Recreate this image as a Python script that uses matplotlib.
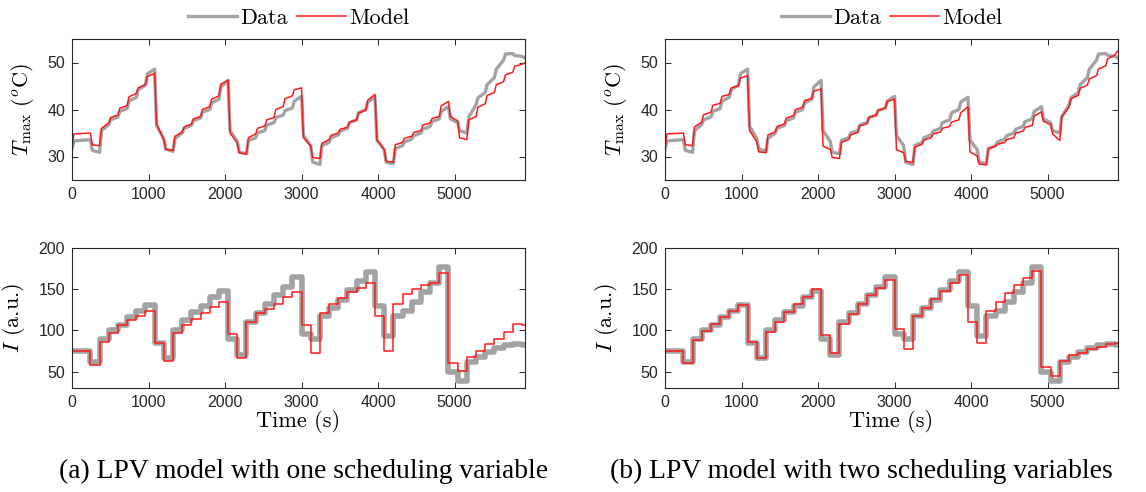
import numpy as np
import matplotlib
matplotlib.use("Agg")
import matplotlib.pyplot as plt

plt.rcParams['mathtext.fontset'] = 'cm'

# ---------------- data ----------------
STEP_T = [0, 240, 360, 480, 600, 720, 840, 960, 1080, 1200, 1320, 1440, 1560, 1680, 1800,
          1920, 2040, 2160, 2280, 2400, 2520, 2640, 2760, 2880, 3000, 3120, 3240, 3360,
          3480, 3600, 3720, 3840, 3960, 4080, 4200, 4320, 4440, 4560, 4680, 4800, 4920,
          5040, 5160, 5280, 5400, 5520, 5640, 5760, 5880]
T_STOP = 5914
XTICKS = [0, 1000, 2000, 3000, 4000, 5000]

# Temperature: value at t=0, value shortly after each step ("knee"), value at end of each step
T0_DATA = 31.6
TDATA_KNEE = [33.3, 31.3, 35.5, 37.8, 39.6, 41.8, 44.2, 47.6, 36.5, 31.6,
              33.8, 36.0, 37.6, 39.4, 41.4, 44.8, 35.5, 30.9,
              33.4, 35.0, 36.7, 38.3, 39.8, 41.8, 34.5, 28.8,
              32.3, 34.0, 35.4, 37.2, 39.3, 41.6, 33.5, 28.8,
              31.7, 33.1, 34.4, 35.8, 37.4, 39.6, 38.0, 35.5,
              38.4, 42.5, 45.3, 48.6, 51.8, 51.5, 51.1]
TDATA_END = [33.6, 30.9, 36.8, 38.4, 40.2, 42.6, 45.2, 48.6, 33.8, 31.1,
             35.0, 36.6, 38.2, 40.0, 42.2, 46.2, 33.2, 30.6,
             34.0, 35.5, 37.2, 38.8, 40.3, 42.8, 32.3, 28.3,
             33.0, 34.6, 36.0, 37.8, 40.0, 42.6, 31.5, 28.5,
             32.3, 33.7, 35.0, 36.4, 38.0, 40.6, 37.2, 35.0,
             41.0, 43.6, 46.8, 50.5, 51.9, 51.3, 51.0]

T0_MODEL = 31.8
TA_KNEE = [34.8, 32.5, 36.0, 38.3, 40.3, 42.7, 44.6, 47.0, 37.0, 31.5,
           34.3, 36.3, 38.0, 40.0, 42.2, 45.4, 35.0, 30.8,
           34.0, 36.0, 37.8, 40.0, 42.3, 44.2, 34.0, 29.8,
           32.8, 34.5, 35.8, 37.3, 39.3, 42.0, 33.5, 29.0,
           32.5, 33.9, 35.1, 36.7, 38.1, 40.8, 38.5, 34.0,
           37.8, 40.5, 43.0, 45.3, 47.4, 49.2, 49.8]
TA_END = [35.0, 32.3, 37.1, 38.8, 40.8, 43.4, 45.3, 47.7, 33.5, 31.3,
          35.2, 36.9, 38.5, 40.6, 42.9, 46.2, 32.9, 30.5,
          34.8, 36.5, 38.3, 40.6, 42.9, 44.6, 32.2, 29.6,
          33.6, 35.0, 36.2, 37.8, 39.8, 43.2, 31.5, 28.8,
          33.0, 34.3, 35.5, 37.1, 38.5, 41.7, 37.6, 33.6,
          38.5, 41.2, 43.6, 45.9, 47.9, 49.6, 49.9]

TB_KNEE = [34.8, 32.5, 36.3, 38.9, 40.9, 42.8, 44.6, 46.7, 35.5, 31.0,
           34.6, 36.4, 38.2, 40.0, 41.9, 43.9, 32.2, 29.8,
           33.0, 34.6, 36.5, 38.3, 39.8, 41.7, 31.4, 29.0,
           32.0, 33.5, 34.8, 36.0, 37.3, 39.3, 31.0, 28.4,
           31.6, 32.6, 33.6, 35.0, 36.2, 38.6, 37.5, 34.8,
           38.5, 42.3, 44.5, 46.5, 48.6, 50.8, 52.3]
TB_END = [35.0, 32.3, 37.3, 39.4, 41.3, 43.2, 45.0, 47.2, 33.1, 30.8,
          35.2, 36.9, 38.7, 40.5, 42.4, 44.4, 31.5, 29.6,
          33.6, 35.1, 37.0, 38.8, 40.3, 42.2, 30.8, 28.7,
          32.6, 34.0, 35.2, 36.4, 37.8, 40.6, 30.1, 28.2,
          32.2, 33.0, 34.0, 35.4, 36.6, 39.5, 36.8, 33.4,
          40.5, 43.0, 45.2, 47.2, 49.3, 51.6, 52.4]

# Current I: level held during each step
I_DATA = [75, 61, 90, 100, 107, 116, 123, 131, 85, 66,
          100, 112, 122, 130, 140, 148, 89, 70,
          110, 121, 132, 143, 153, 165, 96, 89,
          118, 127, 137, 149, 160, 171, 130, 93,
          118, 124, 135, 146, 157, 177, 50, 39,
          62, 68, 74, 79, 82, 83, 82]
I_MODEL_A = [75, 58, 86, 97, 106, 112, 118, 124, 85, 63,
             97, 106, 114, 121, 128, 134, 96, 67,
             110, 121, 126, 132, 140, 146, 106, 72,
             121, 132, 139, 146, 152, 158, 118, 75,
             132, 144, 150, 155, 158, 170, 60, 51,
             68, 75, 83, 90, 98, 108, 106]
I_MODEL_B = [75, 60, 88, 99, 108, 116, 124, 131, 86, 67,
             98, 110, 122, 132, 141, 150, 94, 72,
             108, 120, 132, 143, 152, 161, 102, 77,
             118, 127, 138, 148, 158, 167, 110, 85,
             124, 134, 145, 155, 163, 172, 55, 44,
             63, 70, 73, 77, 80, 84, 85]

CAPTIONS = ["(a) LPV model with one scheduling variable",
            "(b) LPV model with two scheduling variables"]

KNEE_DT = 25
GRAY = '#a3a3a3'
RED = '#ff1a1a'
DARK = '#262626'
CM = 'cmr10'


def temp_curve(v0, knee, end):
    t = [STEP_T[0]]
    v = [v0]
    bounds = STEP_T + [T_STOP]
    for k in range(len(STEP_T)):
        t += [bounds[k] + min(KNEE_DT, (bounds[k + 1] - bounds[k]) * 0.8), bounds[k + 1]]
        v += [knee[k], end[k]]
    return np.array(t), np.array(v)


def step_curve(levels):
    t = np.array(STEP_T + [T_STOP])
    v = np.array(list(levels) + [levels[-1]])
    return t, v


fig = plt.figure(figsize=(11.46, 4.92), dpi=100)

lefts = [72 / 1146, 665 / 1146]
w = 453 / 1146
top_rect_y, top_h = (492 - 180) / 492, 141 / 492
bot_rect_y, bot_h = (492 - 388) / 492, 140 / 492

models_T = [(TA_KNEE, TA_END), (TB_KNEE, TB_END)]
models_I = [I_MODEL_A, I_MODEL_B]


def style(ax):
    for s in ax.spines.values():
        s.set_color(DARK)
        s.set_linewidth(0.8)
    ax.tick_params(direction='in', top=True, right=True, length=4, width=0.7,
                   color=DARK, labelcolor=DARK, labelsize=11.5, pad=5)
    for lab in ax.get_xticklabels() + ax.get_yticklabels():
        lab.set_family('Liberation Sans')
    ax.set_xlim(0, 5920)
    ax.set_xticks(XTICKS)


for c in range(2):
    axT = fig.add_axes([lefts[c], top_rect_y, w, top_h])
    td, vd = temp_curve(T0_DATA, TDATA_KNEE, TDATA_END)
    tm, vm = temp_curve(T0_MODEL, *models_T[c])
    hd, = axT.plot(td, vd, color=GRAY, lw=2.4, solid_joinstyle='round')
    hm, = axT.plot(tm, vm, color=RED, lw=1.1)
    axT.set_ylim(25, 55)
    axT.set_yticks([30, 40, 50])
    style(axT)
    axT.set_ylabel(r'$T_{\max}\ (^{o}\mathrm{C})$', fontsize=16, labelpad=8)
    axT.legend([hd, hm], ['Data', 'Model'], loc='lower center',
               bbox_to_anchor=(0.5, 1.0), ncol=2, frameon=False,
               prop={'family': CM, 'size': 16},
               handlelength=2.2, handletextpad=0.15, columnspacing=0.4,
               borderaxespad=0.1)

    axI = fig.add_axes([lefts[c], bot_rect_y, w, bot_h])
    ti, vi = step_curve(I_DATA)
    axI.plot(ti, vi, color=GRAY, lw=4.0, drawstyle='steps-post')
    tm, vm = step_curve(models_I[c])
    axI.plot(tm, vm, color=RED, lw=1.1, drawstyle='steps-post')
    axI.set_ylim(30, 200)
    axI.set_yticks([50, 100, 150, 200])
    style(axI)
    axI.set_ylabel(r'$I$ (a.u.)', fontsize=16, labelpad=8, family=CM)
    axI.set_xlabel('Time (s)', fontsize=16, labelpad=0, family=CM)

fig.text(304 / 1146, (492 - 471) / 492, CAPTIONS[0], ha='center', va='center',
         family='Liberation Serif', fontsize=19.8)
fig.text(861 / 1146, (492 - 471) / 492, CAPTIONS[1], ha='center', va='center',
         family='Liberation Serif', fontsize=19.8)

fig.savefig('out.png', dpi=100)
